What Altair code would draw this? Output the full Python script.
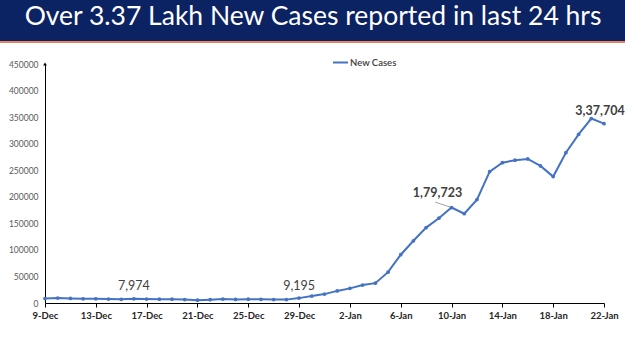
import altair as alt
import pandas as pd

dates = [d.strftime("%Y-%m-%dT00:00:00") for d in pd.date_range("2021-12-09", "2022-01-22")]
cases = [8439, 9419, 8503, 7992, 7774, 7350, 6984, 7974, 7447, 7145, 7081, 6563, 5326,
         6317, 7495, 6650, 7189, 6987, 6531, 6358, 9195, 13154, 16764,
         22775, 27553, 33750, 37379, 58097, 90928, 117100, 141986, 159632, 179723,
         168063, 194720, 247417, 264202, 268833, 271202, 258089, 238018, 282970,
         317532, 347254, 337704]
series_name = "New Cases"
title_text = "Over 3.37 Lakh New Cases reported in last 24 hrs"
tick_dates = [(2021, 12, 9), (2021, 12, 13), (2021, 12, 17), (2021, 12, 21), (2021, 12, 25),
              (2021, 12, 29), (2022, 1, 2), (2022, 1, 6), (2022, 1, 10), (2022, 1, 14),
              (2022, 1, 18), (2022, 1, 22)]
y_ticks = list(range(0, 450001, 50000))
# annotations: (date index, label, weight, dx, dy)
annotations = [(7, "7,974", "normal", 0, -13), (20, "9,195", "normal", 0, -12),
               (32, "1,79,723", "bold", -14, -15), (44, "3,37,704", "bold", -4, -13)]
# leader line for the 1,79,723 label: start near the label, end at the point
leader_start = ("2022-01-08T17:00:00", 190000)
leader_end = (dates[32], cases[32])

df = pd.DataFrame({"date": dates, "cases": cases, "series": series_name})

BLUE = "#4472C4"

x_enc = alt.X("date:T",
              scale=alt.Scale(domain=[alt.DateTime(year=2021, month=12, date=9),
                                      alt.DateTime(year=2022, month=1, date=22)]),
              axis=alt.Axis(values=[alt.DateTime(year=a, month=b, date=c) for a, b, c in tick_dates],
                            format="%-d-%b", title=None, labelFont="Lato", labelFontWeight="bold",
                            labelFontSize=9.5, labelColor="#262626", tickSize=4, tickColor="#000000",
                            domainColor="#000000", labelPadding=3, grid=False, labelAngle=0,
                            labelFlush=False, labelOverlap=False))
y_enc = alt.Y("cases:Q", scale=alt.Scale(domain=[0, 450000], nice=False),
              axis=alt.Axis(values=y_ticks, format="d", ticks=False, labelPadding=7,
                            labelFont="Lato", labelFontSize=8.5, labelColor="#595959",
                            title=None, grid=False, domainColor="#000000",
                            labelOverlap=False, labelFlush=False))

line = alt.Chart(df).mark_line(strokeWidth=2, point=alt.OverlayMarkDef(size=14, filled=True, color=BLUE)).encode(
    x=x_enc, y=y_enc,
    color=alt.Color("series:N", scale=alt.Scale(range=[BLUE]),
                    legend=alt.Legend(orient="none", legendX=287, legendY=-10, title=None,
                                      symbolType="stroke", symbolSize=225, symbolStrokeWidth=2,
                                      labelFont="Lato", labelFontSize=9.5, labelFontWeight=600,
                                      labelColor="#404040", labelOffset=1))
)

leader_df = pd.DataFrame({"date": [leader_start[0]], "cases": [leader_start[1]],
                          "date2": [leader_end[0]], "cases2": [leader_end[1]]})
leader = alt.Chart(leader_df).mark_rule(color="#A6A6A6", strokeWidth=1).encode(
    x=x_enc, y=y_enc, x2="date2:T", y2="cases2:Q")

layers = [leader, line]
for idx, lab, wt, dx, dy in annotations:
    ad = pd.DataFrame({"date": [dates[idx]], "cases": [cases[idx]], "label": [lab]})
    layers.append(alt.Chart(ad).mark_text(font="Lato", fontSize=12.5, fontWeight=wt, color="#404040",
                                          dx=dx, dy=dy, baseline="middle").encode(
        x=x_enc, y=y_enc, text="label:N"))

arrow = alt.Chart(pd.DataFrame({"date": [dates[0]], "cases": [450000]})).mark_point(
    shape="triangle-up", size=14, filled=True, color="#000000", opacity=1).encode(
    x=x_enc, y=y_enc)
layers.append(arrow)

one = pd.DataFrame({"k": [0]})
banner = alt.Chart(one).mark_rect(color="#0B2263").encode(
    x=alt.value(-45), x2=alt.value(580), y=alt.value(-64), y2=alt.value(-23))
stripe = alt.Chart(one).mark_rect(color="#E8825A").encode(
    x=alt.value(-45), x2=alt.value(580), y=alt.value(-23), y2=alt.value(-21))
title = alt.Chart(one).mark_text(font="Lato", fontSize=26.5, color="#FFFFFF", align="center",
                                 baseline="alphabetic").encode(
    x=alt.value(268), y=alt.value(-39), text=alt.value(title_text))

chart = alt.layer(banner, stripe, title, *layers).properties(
    width=559, height=239,
    padding={"left": 45, "top": 64, "right": 21, "bottom": 48},
    autosize=alt.AutoSizeParams(type="none"),
    background="#FFFFFF",
).configure_view(stroke=None).configure_axis(labelOverlap=False)

chart.save("out.html", embed_options={"renderer": "svg", "actions": False})
